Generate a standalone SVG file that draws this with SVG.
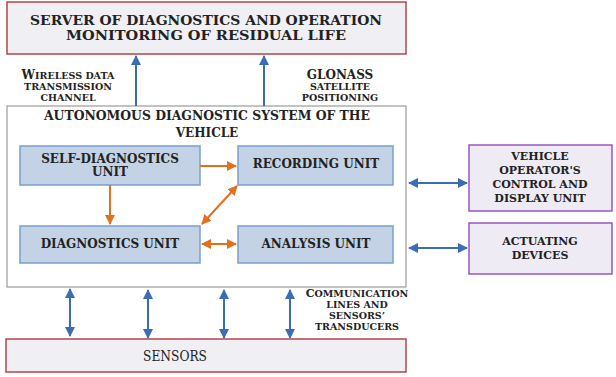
<svg xmlns="http://www.w3.org/2000/svg" width="616" height="377" viewBox="0 0 616 377">
<defs>
<style>
text{font-family:"DejaVu Serif","Liberation Serif",serif;font-weight:bold;fill:#222;text-anchor:middle}
.big{font-size:13.5px}
.unit{font-size:12px}
.lbl{font-size:9.5px}
.side{font-size:11px}
.plain{font-weight:normal;font-size:15px}
.srv{fill:#efeff4;stroke:#b04848;stroke-width:1.5}
.main{fill:#fff;stroke:#9a9a9a;stroke-width:1.2}
.u{fill:#c3d3e5;stroke:#7b9fcb;stroke-width:1.5}
.dev{fill:#efebf4;stroke:#9a55c4;stroke-width:1.5}
.b{stroke:#3a6db3;stroke-width:2;fill:none}
.o{stroke:#e2701e;stroke-width:2;fill:none}
</style>
<marker id="ab" viewBox="0 0 10 10" refX="9" refY="5" markerWidth="5" markerHeight="5" orient="auto-start-reverse"><path d="M0,0L10,5L0,10z" fill="#3a6db3"/></marker>
<marker id="ao" viewBox="0 0 10 10" refX="9" refY="5" markerWidth="5" markerHeight="5" orient="auto-start-reverse"><path d="M0,0L10,5L0,10z" fill="#e2701e"/></marker>
</defs>

<g id="server">
<rect class="srv" x="7" y="2" width="399" height="52"/>
<text class="big" x="206" y="25" textLength="352" lengthAdjust="spacingAndGlyphs">SERVER OF DIAGNOSTICS AND OPERATION</text>
<text class="big" x="206" y="40" textLength="280" lengthAdjust="spacingAndGlyphs">MONITORING OF RESIDUAL LIFE</text>
</g>

<g id="wireless-label">
<text class="lbl" x="68" y="79"><tspan font-size="12">W</tspan>IRELESS DATA</text>
<text class="lbl" x="68" y="90">TRANSMISSION</text>
<text class="lbl" x="68" y="101">CHANNEL</text>
</g>
<g id="glonass-label">
<text class="unit" x="340" y="79">GLONASS</text>
<text class="lbl" x="340" y="90">SATELLITE</text>
<text class="lbl" x="340" y="101">POSITIONING</text>
</g>

<g id="system">
<rect class="main" x="7" y="106" width="399" height="181"/>
<text class="unit" x="207" y="120" textLength="326" lengthAdjust="spacingAndGlyphs">AUTONOMOUS DIAGNOSTIC SYSTEM OF THE</text>
<text class="unit" x="207" y="137">VEHICLE</text>
</g>

<g id="self-diagnostics">
<rect class="u" x="20" y="146" width="180" height="39"/>
<text class="unit" x="110" y="163">SELF-DIAGNOSTICS</text>
<text class="unit" x="110" y="176">UNIT</text>
</g>
<g id="recording">
<rect class="u" x="238" y="146" width="155" height="39"/>
<text class="unit" x="316" y="168">RECORDING UNIT</text>
</g>
<g id="diagnostics">
<rect class="u" x="20" y="226" width="180" height="37"/>
<text class="unit" x="110" y="248">DIAGNOSTICS UNIT</text>
</g>
<g id="analysis">
<rect class="u" x="238" y="226" width="155" height="37"/>
<text class="unit" x="316" y="248">ANALYSIS UNIT</text>
</g>

<g id="operator">
<rect class="dev" x="469" y="145" width="143" height="66"/>
<text class="side" x="540" y="160">VEHICLE</text>
<text class="side" x="540" y="174">OPERATOR'S</text>
<text class="side" x="540" y="188">CONTROL AND</text>
<text class="side" x="540" y="202">DISPLAY UNIT</text>
</g>
<g id="actuating">
<rect class="dev" x="469" y="223" width="143" height="51"/>
<text class="side" x="540" y="245">ACTUATING</text>
<text class="side" x="540" y="259">DEVICES</text>
</g>

<g id="sensors">
<rect class="srv" x="6" y="339" width="400" height="33"/>
<text class="plain" x="175" y="361" textLength="64" lengthAdjust="spacingAndGlyphs">SENSORS</text>
</g>

<g id="comm-label">
<text class="lbl" x="357" y="297"><tspan font-size="11">C</tspan>OMMUNICATION</text>
<text class="lbl" x="357" y="308">LINES AND</text>
<text class="lbl" x="357" y="319">SENSORS’</text>
<text class="lbl" x="357" y="330">TRANSDUCERS</text>
</g>

<g id="connectors">
<line class="b" x1="136" y1="106" x2="136" y2="56" marker-end="url(#ab)"/>
<line class="b" x1="264" y1="106" x2="264" y2="56" marker-end="url(#ab)"/>
<line class="b" x1="409" y1="183" x2="467" y2="183" marker-start="url(#ab)" marker-end="url(#ab)"/>
<line class="b" x1="409" y1="248" x2="467" y2="248" marker-start="url(#ab)" marker-end="url(#ab)"/>
<line class="b" x1="70" y1="289" x2="70" y2="336" marker-start="url(#ab)" marker-end="url(#ab)"/>
<line class="b" x1="148" y1="290" x2="148" y2="338" marker-start="url(#ab)" marker-end="url(#ab)"/>
<line class="b" x1="224" y1="290" x2="224" y2="338" marker-start="url(#ab)" marker-end="url(#ab)"/>
<line class="b" x1="290" y1="290" x2="290" y2="338" marker-start="url(#ab)" marker-end="url(#ab)"/>
<line class="o" x1="200" y1="166" x2="236" y2="166" marker-end="url(#ao)"/>
<line class="o" x1="110" y1="185" x2="110" y2="224" marker-end="url(#ao)"/>
<line class="o" x1="202" y1="224" x2="237" y2="186" marker-start="url(#ao)" marker-end="url(#ao)"/>
<line class="o" x1="202" y1="244" x2="236" y2="244" marker-start="url(#ao)" marker-end="url(#ao)"/>
</g>
</svg>
